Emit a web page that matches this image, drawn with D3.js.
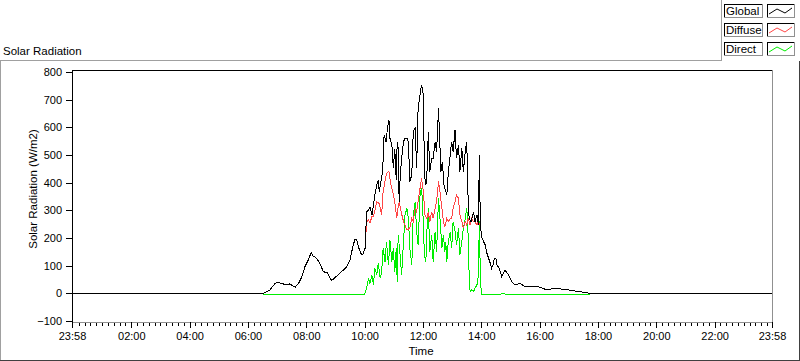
<!DOCTYPE html>
<html>
<head>
<meta charset="utf-8">
<script src="https://cdn.jsdelivr.net/npm/d3@7"></script>
<style>
  body { margin: 0; background: #fff; }
  svg { display: block; font-family: "Liberation Sans", Arial, sans-serif; }
  .axis text { font-size: 11px; fill: #000; }
  .axis path, .axis line { shape-rendering: crispEdges; }
</style>
</head>
<body>
<svg class="solar-chart"></svg>
<script>
// times are minutes after midnight (-2 = 23:58 of the day before)
let globalData = [[-2,0],[391,0],[405,12],[416,36],[422,40],[429,36],[440,30],[446,34],[457,22],[464,36],[471,60],[477,96],[484,120],[490,148],[494,135],[501,127],[508,108],[515,78],[523,75],[532,46],[541,60],[549,72],[556,84],[563,96],[570,120],[575,163],[580,196],[584,193],[587,169],[592,145],[596,139],[601,163],[604,295],[608,301],[611,313],[615,283],[618,319],[621,355],[625,392],[628,410],[630,367],[633,398],[637,440],[640,572],[644,548],[647,597],[650,627],[652,561],[656,536],[659,452],[662,520],[665,410],[667,548],[669,524],[671,331],[673,416],[676,488],[680,548],[683,561],[687,561],[690,548],[693,404],[697,428],[700,584],[704,597],[707,452],[710,669],[714,717],[717,753],[721,717],[723,428],[726,392],[728,428],[731,584],[734,440],[738,488],[741,488],[745,548],[748,512],[752,669],[754,572],[757,440],[760,476],[763,392],[765,380],[769,355],[772,434],[776,500],[779,548],[782,512],[786,591],[789,488],[793,536],[796,440],[800,524],[803,440],[807,512],[810,548],[813,331],[815,271],[819,259],[824,295],[827,259],[831,283],[834,247],[836,500],[838,247],[841,202],[844,190],[848,175],[851,148],[854,132],[858,111],[861,90],[865,108],[866,120],[868,127],[870,127],[872,102],[875,96],[878,84],[882,60],[889,84],[896,66],[903,42],[909,30],[920,36],[930,24],[940,24],[951,26],[961,22],[975,12],[988,18],[1002,16],[1016,14],[1029,9],[1043,6],[1057,2],[1064,0],[1438,0]];

let diffuseData = [[-2,0],[391,0],[405,12],[416,36],[422,40],[429,36],[440,30],[446,34],[457,22],[464,36],[471,60],[477,96],[484,120],[490,148],[494,135],[501,127],[508,108],[515,78],[523,75],[532,46],[541,60],[549,72],[556,84],[563,96],[570,120],[575,163],[580,196],[584,193],[587,169],[592,145],[596,139],[601,163],[604,259],[608,265],[611,255],[615,277],[618,277],[621,300],[625,331],[630,325],[635,283],[638,367],[645,434],[650,440],[654,392],[658,367],[662,331],[666,271],[668,300],[671,331],[675,295],[680,259],[687,229],[693,235],[697,271],[700,259],[704,307],[707,295],[710,331],[714,380],[717,416],[721,367],[724,283],[728,271],[731,295],[734,259],[738,295],[741,271],[745,307],[748,331],[752,404],[755,367],[759,307],[762,259],[765,241],[769,271],[772,259],[776,271],[779,271],[782,307],[786,331],[789,355],[793,344],[796,283],[800,259],[803,235],[807,259],[810,247],[813,271],[817,247],[820,271],[824,259],[827,259],[831,247],[834,259],[838,247],[841,202],[844,190],[848,175],[851,148],[854,132],[858,111],[861,90],[865,108],[866,120],[868,127],[870,127],[872,102],[875,96],[878,84],[882,60],[889,84],[896,66],[903,42],[909,30],[920,36],[930,24],[940,24],[951,26],[961,22],[975,12],[988,18],[1002,16],[1016,14],[1029,9],[1043,6],[1057,2],[1064,0],[1438,0]];

let directData = [[-2,0],[391,0],[393,-4],[450,-4],[455,-6],[460,-4],[540,-3],[545,-4],[600,-4],[604,18],[608,54],[611,36],[615,66],[618,30],[621,90],[625,66],[628,108],[632,54],[635,78],[638,163],[642,114],[645,187],[649,102],[652,193],[656,114],[659,163],[662,78],[665,163],[667,42],[669,211],[673,139],[676,66],[680,187],[683,283],[687,307],[690,271],[693,163],[697,102],[700,283],[704,331],[707,223],[710,175],[714,355],[717,380],[719,331],[723,139],[726,114],[728,223],[731,307],[734,150],[738,211],[741,114],[745,223],[748,150],[752,344],[755,271],[759,163],[762,211],[765,150],[767,187],[769,114],[772,187],[776,223],[779,163],[782,259],[786,223],[789,175],[793,235],[796,139],[800,187],[803,235],[807,271],[810,307],[812,259],[815,66],[817,6],[820,12],[824,6],[827,18],[831,30],[834,66],[836,260],[838,66],[840,-3],[880,-3],[885,-1],[890,-3],[1063,-3],[1064,0],[1438,0]];

let seriesNames = ["Global", "Diffuse", "Direct"];
let seriesColors = ["#000000", "#ff4646", "#00ee00"];

let yTicks = [-100, 0, 100, 200, 300, 400, 500, 600, 700, 800];
let xMajorTicks = [-2, 120, 240, 360, 480, 600, 720, 840, 960, 1080, 1200, 1320, 1438];
let xTickLabels = ["23:58", "02:00", "04:00", "06:00", "08:00", "10:00", "12:00", "14:00", "16:00", "18:00", "20:00", "22:00", "23:58"];

let width = 800, height = 361;
let svg = d3.select(".solar-chart").attr("width", width).attr("height", height);

//plot area
let plotLeft = 72, plotRight = 772, plotTop = 72, plotBottom = 321;

let xScale = d3.scaleLinear().domain([-2, 1438]).range([plotLeft, plotRight]);
let yScale = d3.scaleLinear().domain([-100, 800]).range([plotBottom, plotTop]);

//outer frame (3d look) with the legend notch top right
svg.append("path")
  .attr("d", "M0.5,360 L0.5,60.5 L721.5,60.5 L721.5,0")
  .attr("fill", "none").attr("stroke", "#a0a0a0").attr("shape-rendering", "crispEdges");
svg.append("path")
  .attr("d", "M0,360.5 L799.5,360.5 L799.5,61")
  .attr("fill", "none").attr("stroke", "#404040").attr("shape-rendering", "crispEdges");

svg.append("text")
  .attr("x", 3).attr("y", 55)
  .style("font-size", "11.5px")
  .text("Solar Radiation");

//plot frame
svg.append("line").attr("x1", plotLeft).attr("x2", plotRight + 1).attr("y1", 70.5).attr("y2", 70.5)
  .attr("stroke", "#000").attr("shape-rendering", "crispEdges");
svg.append("line").attr("x1", plotRight + 0.5).attr("x2", plotRight + 0.5).attr("y1", 70).attr("y2", 322)
  .attr("stroke", "#909090").attr("shape-rendering", "crispEdges");

//data lines
svg.append("clipPath").attr("id", "plot-clip")
  .append("rect").attr("x", plotLeft).attr("y", 71).attr("width", plotRight - plotLeft).attr("height", 251);

let line = d3.line()
  .x(function(d){ return xScale(d[0]); })
  .y(function(d){ return yScale(d[1]); });

let gLines = svg.append("g").attr("clip-path", "url(#plot-clip)");
let allSeries = [globalData, diffuseData, directData];
//draw Direct first so Global ends on top
[2, 1, 0].forEach(function(i){
  gLines.append("path")
    .datum(allSeries[i])
    .attr("d", line)
    .attr("fill", "none")
    .attr("stroke", seriesColors[i])
    .attr("stroke-width", 1)
    .attr("shape-rendering", "crispEdges");
});

//y axis
let yAxis = d3.axisLeft(yScale)
  .tickValues(yTicks)
  .tickSize(6)
  .tickSizeOuter(0)
  .tickPadding(4)
  .tickFormat(d3.format("d"));
let gY = svg.append("g").attr("class", "axis").attr("transform", "translate(" + plotLeft + ",0)").call(yAxis);
gY.select(".domain").attr("d", "M0.5,70 V322").attr("stroke", "#000");
gY.selectAll(".tick line").attr("stroke", "#000");

//x axis, minor ticks every 12 min
let minorTicks = d3.range(12, 1438, 12).filter(function(m){ return m % 120 != 0; });
let xMinor = d3.axisBottom(xScale).tickValues(minorTicks).tickSize(4).tickFormat("").tickSizeOuter(0);
let gXMinor = svg.append("g").attr("class", "axis").attr("transform", "translate(0," + 322 + ")").call(xMinor);
gXMinor.select(".domain").remove();

let xAxis = d3.axisBottom(xScale)
  .tickValues(xMajorTicks)
  .tickSize(6)
  .tickSizeOuter(0)
  .tickPadding(4)
  .tickFormat(function(d, i){ return xTickLabels[i]; });
let gX = svg.append("g").attr("class", "axis").attr("transform", "translate(0," + 322 + ")").call(xAxis);
gX.select(".domain").attr("d", "M" + plotLeft + ",0.5 H" + (plotRight + 1)).attr("stroke", "#909090");

svg.append("text")
  .attr("x", 421).attr("y", 355)
  .attr("text-anchor", "middle")
  .style("font-size", "11.5px")
  .text("Time");

svg.append("text")
  .attr("transform", "translate(37,189) rotate(-90)")
  .attr("text-anchor", "middle")
  .style("font-size", "11.5px")
  .text("Solar Radiation (W/m2)");

//legend
let gLegend = svg.append("g").attr("shape-rendering", "crispEdges");
seriesNames.forEach(function(name, i){
  let y0 = 4 + i * 19;
  let boxes = [[724, 38], [767, 27]];
  boxes.forEach(function(b){
    gLegend.append("path")
      .attr("d", "M" + (b[0] + 0.5) + "," + (y0 + 13) + " V" + (y0 + 0.5) + " H" + (b[0] + b[1]))
      .attr("fill", "none").attr("stroke", "#000");
    gLegend.append("path")
      .attr("d", "M" + (b[0] + b[1] + 0.5) + "," + y0 + " V" + (y0 + 13.5) + " H" + b[0])
      .attr("fill", "none").attr("stroke", "#909090");
  });
  svg.append("text")
    .attr("x", 726).attr("y", y0 + 11)
    .style("font-size", "11.5px")
    .text(name);
  let sx = 767;
  svg.append("polyline")
    .attr("points", [[sx + 2, y0 + 10], [sx + 10, y0 + 5], [sx + 18, y0 + 9], [sx + 25, y0 + 4]].join(" "))
    .attr("fill", "none")
    .attr("stroke", seriesColors[i]);
});
</script>
</body>
</html>
